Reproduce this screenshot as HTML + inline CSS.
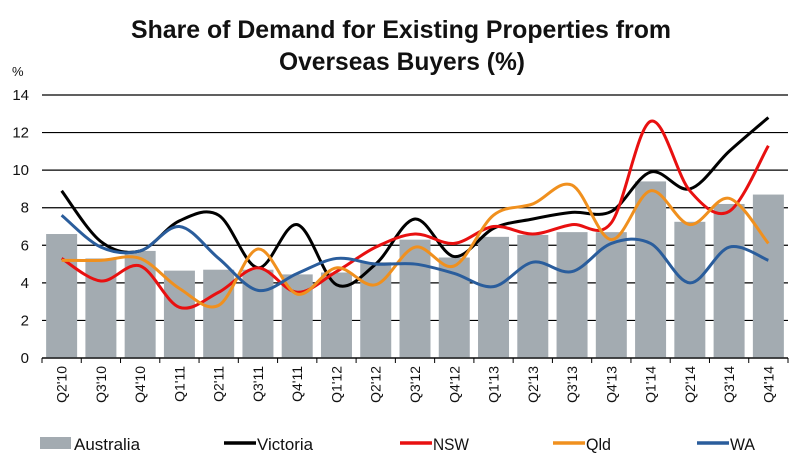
<!DOCTYPE html>
<html><head><meta charset="utf-8"><style>
body{margin:0;background:#fff;font-family:"Liberation Sans",sans-serif}
svg{display:block}
</style></head><body>
<svg id="chart" width="804" height="468">
<text x="401" y="38" text-anchor="middle" font-size="25" font-weight="bold" fill="#111" textLength="540" lengthAdjust="spacingAndGlyphs">Share of Demand for Existing Properties from</text>
<text x="402" y="70" text-anchor="middle" font-size="25" font-weight="bold" fill="#111" textLength="246" lengthAdjust="spacingAndGlyphs">Overseas Buyers (%)</text>
<text x="12" y="76" font-size="13" fill="#111">%</text>
<g id="grid"></g><g id="bars"></g><g id="lines"></g><g id="xaxis"></g><g id="legend"></g>
</svg>
<script>
const categories=["Q2'10","Q3'10","Q4'10","Q1'11","Q2'11","Q3'11","Q4'11","Q1'12","Q2'12","Q3'12","Q4'12","Q1'13","Q2'13","Q3'13","Q4'13","Q1'14","Q2'14","Q3'14","Q4'14"];
const australia=[6.6,5.3,5.7,4.65,4.7,4.7,4.45,4.55,5.1,6.3,5.35,6.45,6.55,6.7,6.7,9.4,7.25,8.2,8.7];
const victoria=[8.9,6.2,5.7,7.3,7.6,4.8,7.1,3.9,5.0,7.4,5.4,6.9,7.4,7.75,7.8,9.9,9.0,11.0,12.8];
const nsw=[5.3,4.1,4.9,2.7,3.5,4.8,3.5,4.6,5.9,6.6,6.1,7.0,6.6,7.1,7.2,12.6,8.9,7.8,11.3];
const qld=[5.2,5.2,5.3,3.7,2.8,5.8,3.4,4.8,3.9,5.9,4.9,7.6,8.2,9.2,6.3,8.9,7.1,8.5,6.1];
const wa=[7.6,5.9,5.7,7.0,5.3,3.6,4.5,5.3,5.0,5.0,4.5,3.8,5.1,4.6,6.1,6.1,4.0,5.9,5.2];
const yTicks=[0,2,4,6,8,10,12,14];
const NS="http://www.w3.org/2000/svg";
const X0=42,X1=788,Y0=358,YT=95,YMAX=14;
const bw=(X1-X0)/categories.length;
const xs=i=>X0+bw*(i+0.5);
const ys=v=>Y0-(v/YMAX)*(Y0-YT);
function mk(t,a,p){const e=document.createElementNS(NS,t);for(const k in a)e.setAttribute(k,a[k]);p.appendChild(e);return e;}
const grid=document.getElementById('grid');
yTicks.forEach(t=>{
  const l=mk('line',{x1:X0,x2:X1,y1:ys(t),y2:ys(t),stroke:'#000','stroke-width':1.2},grid);
  
  
  const tx=mk('text',{x:29,y:ys(t)+5,'text-anchor':'end','font-size':15,fill:'#111'},grid);
  tx.textContent=t;
  
  
});
const bars=document.getElementById('bars');
australia.forEach((v,i)=>{
  const r=mk('rect',{x:xs(i)-15.5,y:ys(v),width:31,height:Y0-ys(v),fill:'#a3abb1'},bars);
  
  
});
function smooth(vals){
  const p=vals.map((v,i)=>[xs(i),ys(v)]);
  let d='M'+p[0][0]+','+p[0][1];
  for(let i=0;i<p.length-1;i++){
    const p0=p[i-1]||p[i],p1=p[i],p2=p[i+1],p3=p[i+2]||p2;
    const c1=[p1[0]+(p2[0]-p0[0])/6,p1[1]+(p2[1]-p0[1])/6];
    const c2=[p2[0]-(p3[0]-p1[0])/6,p2[1]-(p3[1]-p1[1])/6];
    d+=' C'+c1+' '+c2+' '+p2;
  }
  return d;
}
const lines=document.getElementById('lines');
const series=[[victoria,'#000','line-victoria'],[nsw,'#e81010','line-nsw'],[qld,'#f0901e','line-qld'],[wa,'#2a5d9c','line-wa']];
series.forEach(s=>{
  const p=mk('path',{d:smooth(s[0]),fill:'none',stroke:s[1],'stroke-width':3},lines);
  
  
});
const xa=document.getElementById('xaxis');
const ax=mk('line',{x1:X0,x2:X1,y1:Y0,y2:Y0,stroke:'#000','stroke-width':1.2},xa);


for(let i=0;i<=categories.length;i++){
  const x=X0+bw*i;
  const tk=mk('line',{x1:x,x2:x,y1:Y0,y2:Y0+5,stroke:'#000'},xa);
  
  
}
categories.forEach((c,i)=>{
  const t=mk('text',{transform:`translate(${xs(i)+5},${Y0+8}) rotate(-90)`,'text-anchor':'end','font-size':14,fill:'#111'},xa);
  t.textContent=c;
  
  
});
const lg=document.getElementById('legend');
const r=mk('rect',{x:40,y:437,width:31,height:12,fill:'#a3abb1'},lg);


const lt=mk('text',{x:74,y:450,'font-size':17,fill:'#111',textLength:66,lengthAdjust:'spacingAndGlyphs'},lg);
lt.textContent='Australia';


const leg=[['Victoria','#000',224,56],['NSW','#e81010',400,36],['Qld','#f0901e',553,25],['WA','#2a5d9c',697,25]];
leg.forEach(l=>{
  const ln=mk('line',{x1:l[2],x2:l[2]+32,y1:443,y2:443,stroke:l[1],'stroke-width':3.5},lg);
  
  
  const t=mk('text',{x:l[2]+33,y:450,'font-size':17,fill:'#111',textLength:l[3],lengthAdjust:'spacingAndGlyphs'},lg);
  t.textContent=l[0];
  
  
});
</script>
</body></html>
